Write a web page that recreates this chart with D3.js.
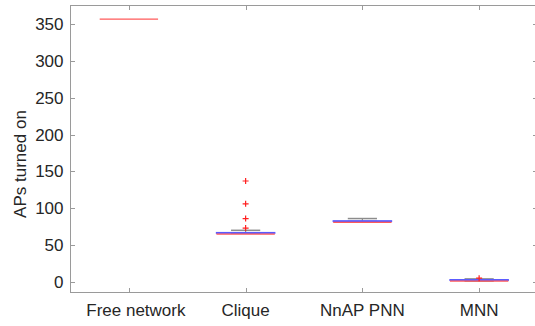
<!DOCTYPE html>
<html>
<head>
<meta charset="utf-8">
<script src="https://cdn.jsdelivr.net/npm/d3@7"></script>
<style>
  body { margin: 0; background: #fff; }
  svg { display: block; font-family: Arial, 'Liberation Sans', sans-serif; }
</style>
</head>
<body>
<svg id="chart" width="535" height="326"></svg>
<script>
// boxplot stats
const categories = ['Free network', 'Clique', 'NnAP PNN', 'MNN']
const whiskerLow = [357, 66, 82, 1]
const q1 = [357, 66, 82, 2]
const median = [357, 66, 82, 2]
const q3 = [357, 67, 83, 3]
const whiskerHigh = [357, 70, 86, 4]
const outliers = [[], [137, 106, 86, 73], [], [5]]
const yTicks = [0, 50, 100, 150, 200, 250, 300, 350]

const boxColor = '#5a5aff'
const medianColor = '#ff5a5a'
const whiskerColor = '#8c8c8c'
const axisColor = '#9a9a9a'
const textColor = '#262626'

const plotLeft = 70.5, plotRight = 537.5, plotTop = 5.5, plotBottom = 292.5
const svg = d3.select('#chart')

const x = d3.scaleLinear().domain([0.5, 4.5]).range([plotLeft, plotRight])
const y = d3.scaleLinear().domain([-14.5, 375.5]).range([plotBottom, plotTop])
const boxHalf = 0.25, capHalf = 0.125

const data = categories.map((name, i) => ({
  name, i,
  lo: whiskerLow[i], q1: q1[i], med: median[i], q3: q3[i], hi: whiskerHigh[i],
  out: outliers[i],
}))

// frame
svg.append('rect')
  .attr('x', plotLeft).attr('y', plotTop)
  .attr('width', plotRight - plotLeft).attr('height', plotBottom - plotTop)
  .attr('fill', 'none').attr('stroke', axisColor)

// inward ticks
const tickLen = 4.5
yTicks.forEach(t => {
  const yy = Math.round(y(t)) + 0.5
  svg.append('line').attr('x1', plotLeft).attr('x2', plotLeft + tickLen).attr('y1', yy).attr('y2', yy).attr('stroke', axisColor)
  svg.append('line').attr('x1', plotRight).attr('x2', plotRight - tickLen).attr('y1', yy).attr('y2', yy).attr('stroke', axisColor)
})
data.forEach(d => {
  const xx = Math.round(x(d.i + 1)) + 0.5
  svg.append('line').attr('x1', xx).attr('x2', xx).attr('y1', plotBottom).attr('y2', plotBottom - tickLen).attr('stroke', axisColor)
  svg.append('line').attr('x1', xx).attr('x2', xx).attr('y1', plotTop).attr('y2', plotTop + tickLen).attr('stroke', axisColor)
})

// tick labels
svg.selectAll('.ylab')
  .data(yTicks)
  .enter().append('text')
  .attr('x', 63.5)
  .attr('y', d => y(d))
  .attr('dy', '0.35em')
  .attr('text-anchor', 'end')
  .attr('font-size', 17)
  .attr('fill', textColor)
  .text(d => d)

svg.selectAll('.xlab')
  .data(data)
  .enter().append('text')
  .attr('x', d => x(d.i + 1) + (d.i === 0 ? 7 : 0))
  .attr('y', 316)
  .attr('text-anchor', 'middle')
  .attr('font-size', 17)
  .attr('fill', textColor)
  .text(d => d.name)

svg.append('text')
  .attr('transform', 'translate(25.5,164) rotate(-90)')
  .attr('text-anchor', 'middle')
  .attr('font-size', 17)
  .attr('fill', textColor)
  .text('APs turned on')

// boxes
const g = svg.append('g')
data.forEach(d => {
  const cx = x(d.i + 1)
  const single = d.lo === d.hi
  if (!single) {
    // whiskers
    g.append('line').attr('x1', cx).attr('x2', cx).attr('y1', y(d.q3)).attr('y2', y(d.hi))
      .attr('stroke', whiskerColor).attr('stroke-width', 1.2)
    g.append('line').attr('x1', cx).attr('x2', cx).attr('y1', y(d.q1)).attr('y2', y(d.lo))
      .attr('stroke', whiskerColor).attr('stroke-width', 1.2)
    ;[d.lo, d.hi].forEach(v => {
      g.append('line')
        .attr('x1', x(d.i + 1 - capHalf)).attr('x2', x(d.i + 1 + capHalf))
        .attr('y1', y(v)).attr('y2', y(v))
        .attr('stroke', whiskerColor).attr('stroke-width', 1.5)
    })
    g.append('rect')
      .attr('x', x(d.i + 1 - boxHalf)).attr('y', y(d.q3))
      .attr('width', x(d.i + 1 + boxHalf) - x(d.i + 1 - boxHalf))
      .attr('height', Math.max(0, y(d.q1) - y(d.q3)))
      .attr('fill', 'none').attr('stroke', boxColor).attr('stroke-width', 1.2)
  }
  g.append('line')
    .attr('x1', x(d.i + 1 - boxHalf)).attr('x2', x(d.i + 1 + boxHalf))
    .attr('y1', y(d.med) + (single ? 0 : 0.8)).attr('y2', y(d.med) + (single ? 0 : 0.8))
    .attr('stroke', medianColor).attr('stroke-width', 1.2)

  g.selectAll(null)
    .data(d.out)
    .enter().append('path')
    .attr('d', v => `M${cx - 3},${y(v)}H${cx + 3}M${cx},${y(v) - 3}V${y(v) + 3}`)
    .attr('stroke', '#ff2020').attr('stroke-width', 1.2)
})
</script>
</body>
</html>
